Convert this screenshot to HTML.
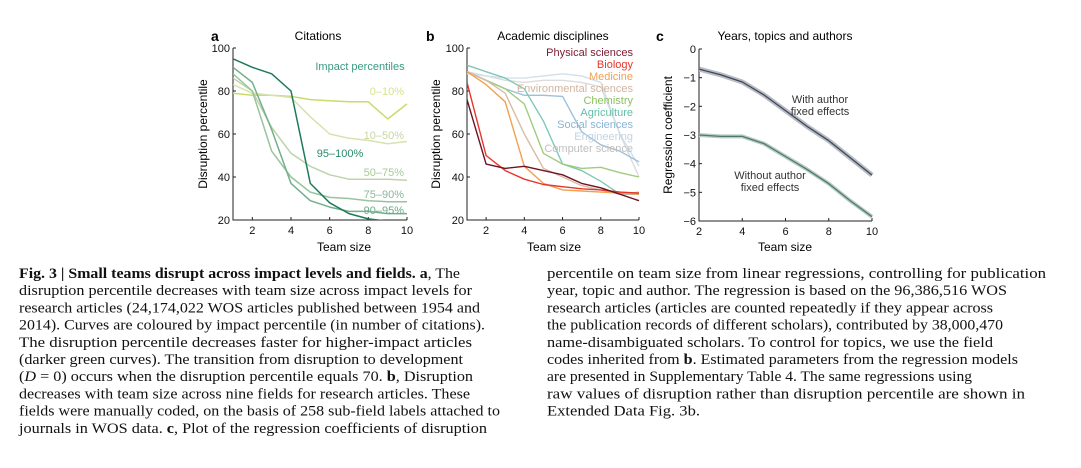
<!DOCTYPE html>
<html><head><meta charset="utf-8"><style>
html,body{margin:0;padding:0;background:#fff;}
svg{display:block;font-family:"Liberation Sans",sans-serif;}
.cap{font-family:"Liberation Serif",serif;font-size:15px;fill:#111;}
.tk{font-size:11px;fill:#111;}
</style></head><body>
<svg id="fig" width="1081" height="468" viewBox="0 0 1081 468">
<g id="pa"></g>
<g id="pb"></g>
<g id="pc"></g>
<g id="caption"></g>
</svg>
<script>
// ---- Panel a data ----
const teamSizesA = [1,2,3,4,5,6,7,8,9,10];
const impactNames = ["0–10%","10–50%","50–75%","75–90%","90–95%","95–100%"];
const s0_10 = [79,78,78,77.5,76,75.5,75,75,67,74];
const s10_50 = [83,79,78,77,68,60,58,57,55.5,56.5];
const s50_75 = [86,80,63,51,45,41,39,39,39,38.5];
const s75_90 = [88,80,52,40,33,30.5,30,29,28.5,28.5];
const s90_95 = [91,84,62,37,29,26,24,24,23,23];
const s95_100 = [95,91,88,80,37,28,23,20.5,19.5,19.5];
const yTicksA = [20,40,60,80,100];
const xTicks = [2,4,6,8,10];
// ---- Panel b data ----
const teamSizesB = [1,2,3,4,5,6,7,8,9,10];
const fieldNames = ["Physical sciences","Biology","Medicine","Environmental sciences","Chemistry","Agriculture","Social sciences","Engineering","Computer science"];
const physical = [76,46,44,45,43,41,37,35,32,29];
const biology = [84,50,43,39,36.5,35.5,34.5,34,33,32.5];
const medicine = [89,83,75,45,37,34,33.5,33,32.5,32];
const environmental = [89,85,79,60,44,40,36,34,32,33];
const chemistry = [89,85,81,74,51,46,44,44.5,42,40];
const agriculture = [92,89,86,81,66,46,43,38,32,32];
const social = [89,85,81,78,78,77.5,61,55,52,47];
const engineering = [89,87,86,86,87,88,87,84,60,45];
const computer = [88,87,85,84,85,85,84,82,60,40];
// ---- Panel c data ----
const teamSizesC = [2,3,4,5,6,7,8,9,10];
const withAuthor = [-0.7,-0.9,-1.15,-1.6,-2.15,-2.7,-3.2,-3.8,-4.4];
const withoutAuthor = [-3.0,-3.05,-3.05,-3.3,-3.75,-4.2,-4.7,-5.3,-5.85];
const yTicksC = [0,-1,-2,-3,-4,-5,-6];

const NS="http://www.w3.org/2000/svg";
function mk(parent,tag,attrs,text){const e=document.createElementNS(NS,tag);for(const k in attrs)e.setAttribute(k,attrs[k]);if(text!==undefined)e.textContent=text;parent.appendChild(e);return e;}

function axes(g,x0,x1,y0,y1,xs,ys,xTickVals,yTickVals,yFmt,clipId){
  const cp=mk(g,'clipPath',{id:clipId});
  mk(cp,'rect',{x:x0,y:y1-2,width:x1-x0+2,height:y0-y1+2});
  const ax=mk(g,'path',{d:`M${x0} ${y1}V${y0}H${x1}`,fill:'none',stroke:'#222','stroke-width':1});
  
  
  xTickVals.forEach(v=>{const X=xs(v);mk(g,'line',{x1:X,x2:X,y1:y0,y2:y0-3,stroke:'#222'});
    const t=mk(g,'text',{x:X,y:y0+14,'text-anchor':'middle',class:'tk'},String(v));
    
    });
  yTickVals.forEach(v=>{const Y=ys(v);mk(g,'line',{x1:x0,x2:x0+3,y1:Y,y2:Y,stroke:'#222'});
    const t=mk(g,'text',{x:x0-3,y:Y+4,'text-anchor':'end',class:'tk'},yFmt(v));
    
    });
}
function line(g,xs,ys,xv,yv,color,w,clip,name){
  const d=xv.map((x,i)=>(i?'L':'M')+xs(x).toFixed(1)+' '+ys(yv[i]).toFixed(1)).join('');
  const p=mk(g,'path',{d,fill:'none',stroke:color,'stroke-width':w,'stroke-linejoin':'round','clip-path':`url(#${clip})`});
  
  
  return p;
}
function label(g,x,y,txt,opts,name){const t=mk(g,'text',Object.assign({x,y},opts),txt);
  
  return t;}

// Panel a
(function(){
const g=document.getElementById('pa');
const x0=233,x1=407,y0=220,y1=48;
const xs=v=>x0+(v-1)*(x1-x0)/9, ys=v=>y0-(v-20)*(y0-y1)/80;
axes(g,x0,x1,y0,y1,xs,ys,xTicks,yTicksA,v=>String(v),'clipA');
const series=[s0_10,s10_50,s50_75,s75_90,s90_95,s95_100];
const cols=['#c9dc6a','#d6e2b0','#bdd4a8','#98c49c','#74ae8c','#1d7a5c'];
series.forEach((s,i)=>line(g,xs,ys,teamSizesA,s,cols[i],1.5,'clipA','line-'+impactNames[i]));
label(g,211,41,'a',{'font-weight':'bold','font-size':'14px'},'panel-letter-a');
label(g,318,40,'Citations',{'text-anchor':'middle','font-size':'12px'},'panel-a-title');
label(g,360,70,'Impact percentiles',{'text-anchor':'middle','font-size':'11px',fill:'#3a9a80'},'legend-title');
const ly=[95,139,157,176,198,214], lx=[404,404,340,404,404,404];
const lc=['#d8e38a','#c8d8a0','#2a8a6a','#a8c898','#8ab898','#6aaa88'];
const order=[0,1,5,2,3,4];
order.forEach((k,j)=>label(g,lx[j],ly[j],impactNames[k],{'text-anchor':k===5?'middle':'end','font-size':'11px',fill:lc[j]},'legend-entry'));
label(g,344,251,'Team size',{'text-anchor':'middle','font-size':'12px'},'x-axis-title');
label(g,0,0,'Disruption percentile',{'text-anchor':'middle','font-size':'12px',transform:'translate(207,134) rotate(-90)'},'y-axis-title');
})();

// Panel b
(function(){
const g=document.getElementById('pb');
const x0=467,x1=639,y0=220,y1=48;
const xs=v=>x0+(v-1)*(x1-x0)/9, ys=v=>y0-(v-20)*(y0-y1)/80;
axes(g,x0,x1,y0,y1,xs,ys,xTicks,yTicksA,v=>String(v),'clipB');
const series=[computer,engineering,social,agriculture,chemistry,environmental,medicine,biology,physical];
const cols=['#dcdcdc','#d2e0ec','#9ec0da','#80c8b8','#a0cc80','#d8bca8','#f2a050','#e8352a','#6e1424'];
const idx=[8,7,6,5,4,3,2,1,0];
series.forEach((s,i)=>line(g,xs,ys,teamSizesB,s,cols[i],1.4,'clipB','line-'+fieldNames[idx[i]]));
const lcol=['#7a1a30','#e8352a','#f2a050','#d0b4a0','#8cc060','#60c0a8','#8ab4d4','#c0d4e4','#c0c0c0'];
const ly=[56,68,80,92,104,116,128,140,152];
fieldNames.forEach((n,i)=>label(g,633,ly[i],n,{'text-anchor':'end','font-size':'11px',fill:lcol[i]},'legend-entry'));
label(g,426,41,'b',{'font-weight':'bold','font-size':'14px'},'panel-letter-b');
label(g,553,40,'Academic disciplines',{'text-anchor':'middle','font-size':'12px'},'panel-b-title');
label(g,554,251,'Team size',{'text-anchor':'middle','font-size':'12px'},'x-axis-title');
label(g,0,0,'Disruption percentile',{'text-anchor':'middle','font-size':'12px',transform:'translate(440,134) rotate(-90)'},'y-axis-title');
})();

// Panel c
(function(){
const g=document.getElementById('pc');
const x0=699,x1=872,y0=221,y1=49;
const xs=v=>x0+(v-2)*(x1-x0)/8, ys=v=>y1+(0-v)*(y0-y1)/6;
axes(g,x0,x1,y0,y1,xs,ys,xTicks,yTicksC,v=>v<0?'−'+(-v):String(v),'clipC');
line(g,xs,ys,teamSizesC,withAuthor,'#b8bcc4',5,'clipC','band-with-author');
line(g,xs,ys,teamSizesC,withAuthor,'#3e4658',1.3,'clipC','line-with-author');
line(g,xs,ys,teamSizesC,withoutAuthor,'#b8ccc4',4,'clipC','band-without-author');
line(g,xs,ys,teamSizesC,withoutAuthor,'#4e7a6c',1.3,'clipC','line-without-author');
label(g,656,41,'c',{'font-weight':'bold','font-size':'14px'},'panel-letter-c');
label(g,785,40,'Years, topics and authors',{'text-anchor':'middle','font-size':'12px'},'panel-c-title');
label(g,820,103,'With author',{'text-anchor':'middle','font-size':'11px',fill:'#333'},'annotation-with');
label(g,820,115,'fixed effects',{'text-anchor':'middle','font-size':'11px',fill:'#333'},'annotation-with');
label(g,770,179,'Without author',{'text-anchor':'middle','font-size':'11px',fill:'#333'},'annotation-without');
label(g,770,191,'fixed effects',{'text-anchor':'middle','font-size':'11px',fill:'#333'},'annotation-without');
label(g,785,251,'Team size',{'text-anchor':'middle','font-size':'12px'},'x-axis-title');
label(g,0,0,'Regression coefficient',{'text-anchor':'middle','font-size':'12px',transform:'translate(672,135) rotate(-90)'},'y-axis-title');
})();

// Caption
(function(){
const g=document.getElementById('caption');
const L=[
 ["<tspan font-weight='bold'>Fig. 3 | Small teams disrupt across impact levels and fields. a</tspan>, The",441],
 ["disruption percentile decreases with team size across impact levels for",453],
 ["research articles (24,174,022 WOS articles published between 1954 and",461],
 ["2014). Curves are coloured by impact percentile (in number of citations).",466],
 ["The disruption percentile decreases faster for higher-impact articles",453],
 ["(darker green curves). The transition from disruption to development",444],
 ["(<tspan font-style='italic'>D</tspan> = 0) occurs when the disruption percentile equals 70. <tspan font-weight='bold'>b</tspan>, Disruption",454],
 ["decreases with team size across nine fields for research articles. These",451],
 ["fields were manually coded, on the basis of 258 sub-field labels attached to",481],
 ["journals in WOS data. <tspan font-weight='bold'>c</tspan>, Plot of the regression coefficients of disruption",468]];
const R=[
 ["percentile on team size from linear regressions, controlling for publication",499],
 ["year, topic and author. The regression is based on the 96,386,516 WOS",460],
 ["research articles (articles are counted repeatedly if they appear across",446],
 ["the publication records of different scholars), contributed by 38,000,470",456],
 ["name-disambiguated scholars. To control for topics, we use the field",446],
 ["codes inherited from <tspan font-weight='bold'>b</tspan>. Estimated parameters from the regression models",471],
 ["are presented in Supplementary Table 4. The same regressions using",425],
 ["raw values of disruption rather than disruption percentile are shown in",478],
 ["Extended Data Fig. 3b.",153]];
L.forEach((l,i)=>{const t=mk(g,'text',{x:19,y:278+i*17.2,class:'cap',textLength:l[1],lengthAdjust:'spacingAndGlyphs'});t.innerHTML=l[0];
  
  });
R.forEach((l,i)=>{const t=mk(g,'text',{x:547,y:278+i*17.2,class:'cap',textLength:l[1],lengthAdjust:'spacingAndGlyphs'});t.innerHTML=l[0];
  
  });
})();
</script>
</body></html>
